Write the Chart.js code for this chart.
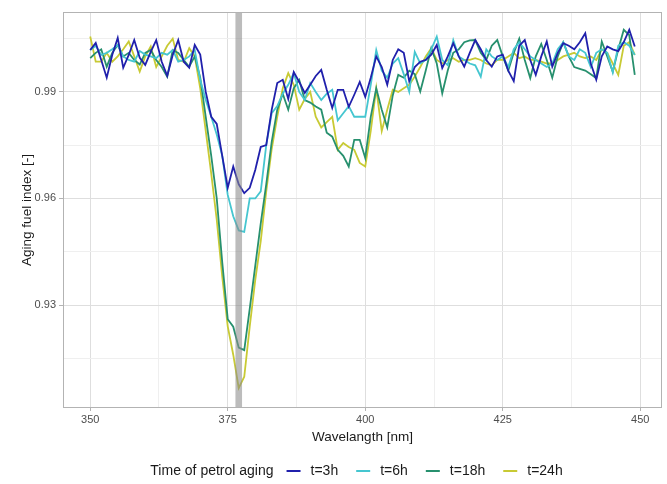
<!DOCTYPE html>
<html>
<head>
<meta charset="utf-8">
<script src="https://cdn.jsdelivr.net/npm/chart.js@4/dist/chart.umd.min.js"></script>
<style>
  html, body { margin: 0; padding: 0; background: #fff; }
</style>
</head>
<body>
<canvas id="agingchart" width="667" height="484"></canvas>
<script>
// wavelengths 350..449 nm, one reading per nm
var wavelengths = Array.from({length: 100}, function(_, i) { return 350 + i; });

var seriesLabels = ['t=3h', 't=6h', 't=18h', 't=24h'];
var seriesColours = ['#2020ac', '#45c6d0', '#27906e', '#c8ca34'];

var t3h = [
  1.0018, 1.0038, 0.9990, 0.9940, 1.0004, 1.0052, 0.9968, 1.0004, 1.0046, 0.9996,
  0.9976, 1.0013, 1.0046, 0.9985, 0.9945, 1.0004, 1.0046, 0.9985, 0.9968, 1.0032,
  1.0005, 0.9900, 0.9830, 0.9810, 0.9720, 0.9630, 0.9690, 0.9640, 0.9615, 0.9630,
  0.9680, 0.9745, 0.9750, 0.9850, 0.9925, 0.9934, 0.9880, 0.9956, 0.9928, 0.9897,
  0.9920, 0.9945, 0.9962, 0.9906, 0.9855, 0.9906, 0.9906, 0.9858, 0.9892, 0.9928,
  0.9886, 0.9940, 1.0000, 0.9970, 0.9920, 0.9990, 1.0020, 1.0010, 0.9930, 0.9970,
  0.9985, 0.9990, 1.0005, 1.0032, 0.9967, 1.0000, 1.0037, 1.0000, 0.9971, 1.0010,
  1.0046, 1.0020, 0.9990, 0.9971, 1.0000, 1.0005, 0.9960, 0.9930, 1.0030, 1.0046,
  0.9990, 0.9948, 1.0000, 1.0042, 0.9971, 1.0010, 1.0037, 1.0030, 1.0020, 1.0040,
  1.0065, 0.9980, 0.9934, 1.0000, 1.0028, 1.0020, 1.0015, 1.0040, 1.0075, 1.0028
];

var t6h = [
  1.0018, 1.0030, 1.0004, 1.0010, 1.0020, 1.0032, 1.0000, 0.9990, 0.9985, 1.0015,
  1.0005, 1.0000, 0.9995, 1.0010, 1.0005, 1.0018, 0.9985, 0.9990, 1.0000, 1.0018,
  0.9934, 0.9877, 0.9830, 0.9780, 0.9720, 0.9610, 0.9550, 0.9510, 0.9506, 0.9600,
  0.9600, 0.9620, 0.9750, 0.9840, 0.9860, 0.9895, 0.9920, 0.9953, 0.9900, 0.9877,
  0.9925, 0.9900, 0.9877, 0.9895, 0.9906, 0.9820, 0.9840, 0.9860, 0.9830, 0.9830,
  0.9830, 0.9920, 1.0018, 0.9960, 0.9940, 0.9980, 0.9995, 0.9950, 0.9900, 1.0013,
  0.9980, 0.9990, 1.0020, 1.0056, 0.9990, 0.9975, 1.0046, 1.0000, 0.9990, 0.9980,
  0.9975, 0.9943, 1.0020, 1.0000, 0.9990, 1.0000, 0.9970, 1.0020, 1.0040, 1.0020,
  1.0000, 0.9990, 0.9980, 0.9970, 0.9980, 1.0020, 1.0040, 1.0000, 0.9990, 1.0020,
  1.0010, 0.9970, 1.0010, 1.0020, 1.0010, 0.9955, 1.0030, 1.0040, 1.0030, 1.0004
];

var t18h = [
  0.9995, 1.0010, 1.0020, 0.9971, 1.0010, 1.0032, 1.0000, 1.0010, 0.9990, 0.9977,
  1.0010, 1.0018, 0.9990, 0.9970, 0.9943, 1.0018, 1.0010, 0.9990, 0.9971, 1.0000,
  0.9940, 0.9830, 0.9720, 0.9600, 0.9420, 0.9260, 0.9239, 0.9180, 0.9173, 0.9290,
  0.9410, 0.9530, 0.9640, 0.9760, 0.9850, 0.9895, 0.9850, 0.9910, 0.9934, 0.9877,
  0.9870, 0.9859, 0.9850, 0.9785, 0.9774, 0.9737, 0.9720, 0.9690, 0.9765, 0.9765,
  0.9714, 0.9830, 0.9910, 0.9850, 0.9800, 0.9890, 0.9948, 0.9940, 0.9960, 0.9950,
  0.9901, 0.9960, 1.0023, 0.9980, 0.9896, 0.9960, 1.0010, 1.0020, 1.0040, 1.0045,
  1.0046, 1.0010, 0.9990, 1.0030, 1.0046, 1.0000, 0.9960, 1.0010, 1.0050, 0.9990,
  0.9939, 1.0000, 1.0035, 0.9990, 0.9940, 1.0000, 1.0040, 1.0000, 0.9970, 0.9965,
  0.9960, 0.9950, 0.9939, 1.0042, 1.0000, 0.9957, 1.0020, 1.0075, 1.0060, 0.9948
];

var t24h = [
  1.0056, 0.9985, 0.9985, 1.0010, 0.9985, 1.0000, 1.0020, 1.0042, 1.0000, 0.9957,
  1.0000, 1.0028, 0.9970, 1.0000, 1.0030, 1.0050, 0.9990, 0.9985, 1.0023, 1.0000,
  0.9910, 0.9790, 0.9670, 0.9540, 0.9380, 0.9240, 0.9160, 0.9066, 0.9098, 0.9240,
  0.9370, 0.9480, 0.9620, 0.9740, 0.9830, 0.9910, 0.9953, 0.9920, 0.9850, 0.9880,
  0.9900, 0.9830, 0.9800, 0.9815, 0.9830, 0.9737, 0.9756, 0.9745, 0.9737, 0.9700,
  0.9690, 0.9790, 0.9910, 0.9790, 0.9850, 0.9906, 0.9900, 0.9910, 0.9920, 0.9943,
  0.9970, 1.0000, 1.0023, 0.9990, 0.9980, 0.9990, 0.9995, 0.9985, 0.9990, 0.9990,
  0.9995, 0.9990, 0.9980, 0.9975, 0.9990, 0.9990, 1.0000, 1.0010, 0.9995, 1.0000,
  0.9990, 0.9990, 0.9985, 0.9980, 0.9980, 0.9990, 1.0000, 1.0005, 1.0010, 1.0000,
  0.9995, 1.0000, 0.9990, 1.0020, 1.0010, 0.9980, 0.9948, 1.0030, 1.0040, 1.0004
];

var allSeries = [t3h, t6h, t18h, t24h];

// axis ticks (labelled) and the lighter in-between grid lines
var xTicks = [350, 375, 400, 425, 450];
var xMinor = [362.5, 387.5, 412.5, 437.5];
var yTicks = [0.93, 0.96, 0.99];
var yMinor = [0.915, 0.945, 0.975, 1.005];

// highlighted wavelength band (nm)
var bandRange = [376.4, 377.6];

var legendTitle = 'Time of petrol aging';

var fontFamily = '"Liberation Sans", Arial, sans-serif';

function tickList(major, minor) {
  return major.concat(minor).sort(function(a, b) { return a - b; })
    .map(function(v) { return {value: v}; });
}

function gridColour(major) {
  return function(ctx) {
    if (!ctx.tick) return '#ebebeb';
    return major.indexOf(ctx.tick.value) >= 0 ? '#dedede' : '#efefef';
  };
}

function tickColour(major) {
  return function(ctx) {
    if (!ctx.tick) return 'rgba(0,0,0,0)';
    return major.indexOf(ctx.tick.value) >= 0 ? '#b3b3b3' : 'rgba(0,0,0,0)';
  };
}

var datasets = [];
for (var s = 0; s < allSeries.length; s++) {
  datasets.push({
    label: seriesLabels[s],
    data: wavelengths.map(function(w, i) { return {x: w, y: allSeries[s][i]}; }),
    borderColor: seriesColours[s],
    backgroundColor: seriesColours[s],
    borderWidth: 1.8,
    pointRadius: 0,
    tension: 0,
    fill: false
  });
}

var panelDecor = {
  id: 'panelDecor',
  afterDatasetsDraw: function(chart) {
    var ctx = chart.ctx;
    var a = chart.chartArea;
    var xs = chart.scales.x;
    var x0 = xs.getPixelForValue(bandRange[0]);
    var x1 = xs.getPixelForValue(bandRange[1]);
    ctx.save();
    ctx.fillStyle = 'rgba(140,140,140,0.58)';
    ctx.fillRect(x0, a.top, x1 - x0, a.bottom - a.top);
    // panel border
    ctx.strokeStyle = '#b3b3b3';
    ctx.lineWidth = 1;
    ctx.strokeRect(Math.round(a.left) + 0.5, Math.round(a.top) + 0.5,
      Math.round(a.right - a.left) - 1, Math.round(a.bottom - a.top) - 1);
    ctx.restore();
  },
  afterDraw: function(chart) {
    var ctx = chart.ctx;
    var a = chart.chartArea;
    ctx.save();
    ctx.font = '14px ' + fontFamily;
    ctx.textBaseline = 'middle';
    ctx.fillStyle = '#1a1a1a';
    var y = 471;
    var keyW = 14, keyGap = 10, itemGap = 18, titleGap = 13;
    var titleW = ctx.measureText(legendTitle).width;
    var total = titleW + titleGap;
    var items = chart.data.datasets.map(function(ds) {
      var w = ctx.measureText(ds.label).width;
      return {label: ds.label, colour: ds.borderColor, w: w};
    });
    items.forEach(function(it, i) {
      total += keyW + keyGap + it.w + (i < items.length - 1 ? itemGap : 0);
    });
    var x = (a.left + a.right) / 2 - 6 - total / 2;
    ctx.fillText(legendTitle, x, y);
    x += titleW + titleGap;
    items.forEach(function(it) {
      ctx.strokeStyle = it.colour;
      ctx.lineWidth = 2;
      ctx.beginPath();
      ctx.moveTo(x, y);
      ctx.lineTo(x + keyW, y);
      ctx.stroke();
      x += keyW + keyGap;
      ctx.fillText(it.label, x, y);
      x += it.w + itemGap;
    });
    ctx.restore();
  }
};

var ctxA = document.getElementById('agingchart').getContext('2d');
var agingChart = new Chart(ctxA, {
  type: 'line',
  data: { datasets: datasets },
  options: {
    responsive: false,
    animation: false,
    layout: { padding: { left: 0, right: 5, top: 12, bottom: 36 } },
    plugins: {
      legend: { display: false },
      tooltip: { enabled: false },
      title: { display: false }
    },
    scales: {
      x: {
        type: 'linear',
        min: 345.05,
        max: 453.95,
        bounds: 'data',
        afterBuildTicks: function(scale) { scale.ticks = tickList(xTicks, xMinor); },
        afterFit: function(scale) { scale.height = 40; },
        grid: {
          color: gridColour(xTicks),
          tickColor: tickColour(xTicks),
          tickLength: 3,
          lineWidth: 1
        },
        border: { display: false },
        ticks: {
          autoSkip: false,
          maxRotation: 0,
          padding: 2,
          color: '#4d4d4d',
          font: { family: fontFamily, size: 11 },
          callback: function(v) { return xTicks.indexOf(v) >= 0 ? String(v) : ''; }
        },
        title: {
          display: true,
          text: 'Wavelangth [nm]',
          color: '#1a1a1a',
          font: { family: fontFamily, size: 13.5 },
          padding: { top: 0, bottom: 3 }
        }
      },
      y: {
        min: 0.901,
        max: 1.0125,
        bounds: 'data',
        afterBuildTicks: function(scale) { scale.ticks = tickList(yTicks, yMinor); },
        afterFit: function(scale) { scale.width = 63; },
        grid: {
          color: gridColour(yTicks),
          tickColor: tickColour(yTicks),
          tickLength: 4,
          lineWidth: 1
        },
        border: { display: false },
        ticks: {
          autoSkip: false,
          padding: 3,
          color: '#4d4d4d',
          font: { family: fontFamily, size: 11 },
          callback: function(v) { return yTicks.indexOf(v) >= 0 ? v.toFixed(2) : ''; }
        },
        title: {
          display: true,
          text: 'Aging fuel index [-]',
          color: '#1a1a1a',
          font: { family: fontFamily, size: 13.5 },
          padding: { top: 19, bottom: 0 }
        }
      }
    }
  },
  plugins: [panelDecor]
});
</script>
</body>
</html>
